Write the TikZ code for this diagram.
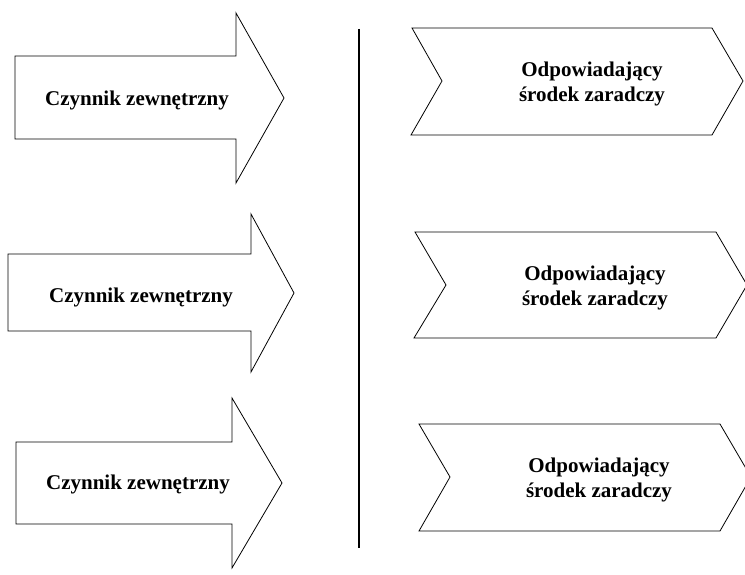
\documentclass[tikz,border=0pt]{standalone}
\usepackage{fontspec}
\setmainfont{Liberation Serif}
\begin{document}
\begin{tikzpicture}[x=1pt,y=-1pt,
  outline/.style={draw,line width=0.8pt,line join=miter},
  boxtext/.style={font=\fontsize{21}{25}\selectfont\bfseries,align=center}]
\useasboundingbox (0,0) rectangle (745,575);
% arrows on the left
\draw[outline] (15,56) -- (236,56) -- (236,13) -- (284,98) -- (236,183) -- (236,139) -- (15,139) -- cycle;
\draw[outline] (8,254) -- (251,254) -- (251,214) -- (294,293) -- (251,372) -- (251,331) -- (8,331) -- cycle;
\draw[outline] (16,442) -- (232,442) -- (232,398) -- (282,483) -- (232,568) -- (232,524) -- (16,524) -- cycle;
\node[boxtext] (czynnik1) at (137,100) {Czynnik zewnętrzny};
\node[boxtext] (czynnik2) at (141,297) {Czynnik zewnętrzny};
\node[boxtext] (czynnik3) at (138,484) {Czynnik zewnętrzny};
% dividing line
\coordinate (linetop) at (359,29);
\coordinate (linebot) at (359,548);
\draw[line width=1.6pt] (linetop) -- (linebot);
% chevrons on the right
\draw[outline] (412,28) -- (712,28) -- (743,81) -- (712,135) -- (411,135) -- (442,81) -- cycle;
\draw[outline] (415,232) -- (716,232) -- (747,285) -- (716,338) -- (414,338) -- (446,285) -- cycle;
\draw[outline] (419,424) -- (720,424) -- (751,477) -- (720,531) -- (419,531) -- (450,477) -- cycle;
\node[boxtext] (srodek1) at (592,84) {Odpowiadający\\środek zaradczy};
\node[boxtext] (srodek2) at (595,288) {Odpowiadający\\środek zaradczy};
\node[boxtext] (srodek3) at (599,480) {Odpowiadający\\środek zaradczy};
\end{tikzpicture}
\end{document}
